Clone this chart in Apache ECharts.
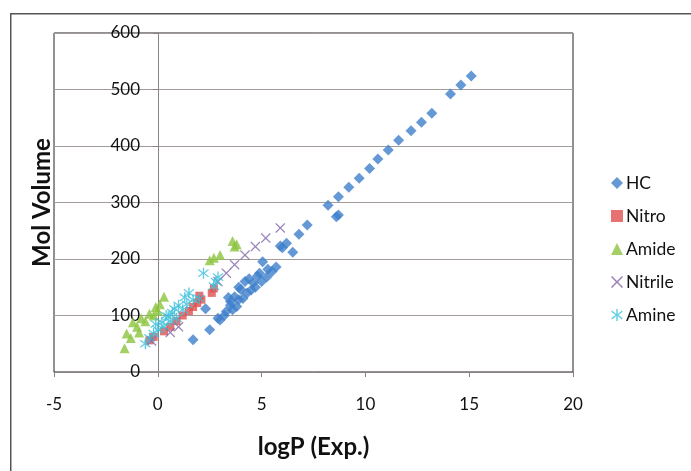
<!DOCTYPE html>
<html>
<head>
<meta charset="utf-8">
<script src="https://cdn.jsdelivr.net/npm/echarts@6/dist/echarts.min.js"></script>
<style>
  html, body { margin: 0; padding: 0; background: #fff; }
  #chart { width: 691px; height: 471px; }
</style>
</head>
<body>
<div id="chart"></div>
<script>
// data: [logP, Mol Volume]
var hcData = [
  [15.1,524],[14.6,508],[14.1,492],[13.2,458],[12.7,442],[12.2,427],[11.6,410],[11.1,393],
  [10.6,377],[10.2,360],[9.7,343],[9.2,327],[8.7,310],[8.2,295],[8.7,278],[8.6,275],
  [7.2,260],[6.8,244],[6.5,212],[6.2,228],[6.0,220],[5.9,223],
  [5.7,186],[5.5,178],[5.25,168],[5.05,195],[4.9,175],[4.6,158],[4.4,165],[4.2,160],
  [4.0,146],[3.9,150],[3.7,133],[3.5,125],[3.8,116],[3.5,118],[3.3,107],[3.6,110],
  [3.9,128],[4.3,140],[4.7,150],[2.9,95],[3.0,92],[2.5,75],[2.3,112],[1.7,57],
  [4.1,130],[4.5,145],[5.0,160],[3.2,100],[3.4,132],[4.8,170],[5.3,182]
];
var nitroData = [
  [2.7,148],[2.6,140],[2.1,128],[1.9,122],[1.5,108],[1.2,100],[0.9,90],[0.6,80],
  [0.3,72],[-0.4,56],[-0.2,62],[1.7,115],[2.0,135]
];
var amideData = [
  [3.6,232],[3.8,226],[3.7,222],[3.0,207],[2.5,198],[2.7,202],[0.3,133],[0.1,120],
  [-0.1,115],[-0.4,103],[-0.8,95],[-1.2,88],[-1.0,80],[-1.5,68],[-1.3,60],[-1.6,42],
  [-0.6,90],[-0.2,100],[0.0,108],[-0.9,70]
];
var nitrileData = [
  [5.9,255],[5.2,237],[4.7,222],[4.2,207],[3.7,190],[3.3,175],[2.9,160],[0.6,70],
  [1.0,80],[-0.3,55]
];
var amineData = [
  [2.2,175],[2.9,168],[2.8,160],[2.7,152],[1.5,140],[1.3,132],[1.7,128],[1.0,118],
  [1.2,110],[0.7,105],[0.5,98],[0.9,95],[0.2,88],[0.3,80],[0.0,75],[-0.2,68],
  [-0.4,60],[-0.6,50],[0.6,90],[1.4,120],[2.0,130],[0.8,112],[-0.1,85],[0.4,100]
];

var xName = 'logP (Exp.)';
var yName = 'Mol Volume';

var crossPath = 'path://M0,0.9 L0.9,0 L5,4.1 L9.1,0 L10,0.9 L5.9,5 L10,9.1 L9.1,10 L5,5.9 L0.9,10 L0,9.1 L4.1,5 Z';
var starPath = 'path://M4.4,0 L5.6,0 L5.6,4.1 L9.1,1.3 L9.8,2.2 L6.2,5 L9.8,7.8 L9.1,8.7 L5.6,5.9 L5.6,10 L4.4,10 L4.4,5.9 L0.9,8.7 L0.2,7.8 L3.8,5 L0.2,2.2 L0.9,1.3 L4.4,4.1 Z';

var fontFam = 'Lato, "Liberation Sans", sans-serif';

var chart = echarts.init(document.getElementById('chart'));
chart.setOption({
  animation: false,
  textStyle: { fontFamily: fontFam },
  graphic: [{
    type: 'rect',
    left: 10, top: 13,
    shape: { width: 700, height: 500 },
    style: { fill: 'transparent', stroke: '#555', lineWidth: 1.5 },
    z: -1,
    silent: true
  }],
  grid: {
    left: 54, top: 33, right: 118, bottom: 99,
    outerBoundsMode: 'none',
    containLabel: false,
    show: true, borderColor: '#222', borderWidth: 1
  },
  legend: {
    orient: 'vertical',
    left: 606, top: 169,
    itemWidth: 12, itemHeight: 12, itemGap: 15,
    textStyle: { fontSize: 17.5, color: '#111', fontFamily: fontFam, padding: [0, 0, 0, -2] },
    data: ['HC', 'Nitro', 'Amide', 'Nitrile', 'Amine']
  },
  xAxis: {
    type: 'value', min: -5, max: 20, interval: 5,
    name: xName, nameLocation: 'middle', nameGap: 63,
    nameTextStyle: { fontSize: 24, fontWeight: 'bold', color: '#111' },
    axisLine: { onZero: false, lineStyle: { color: '#8a8380' } },
    axisTick: { show: true, length: 5, lineStyle: { color: '#8a8380' } },
    axisLabel: { fontSize: 17, color: '#111', margin: 24 },
    splitLine: { show: false }
  },
  yAxis: {
    type: 'value', min: 0, max: 600, interval: 100,
    offset: -104,
    name: yName, nameLocation: 'middle', nameGap: 104,
    nameTextStyle: { fontSize: 24, fontWeight: 'bold', color: '#111' },
    axisLine: { show: true, onZero: false, lineStyle: { color: '#8a8380' } },
    axisTick: { show: true, length: 5, lineStyle: { color: '#8a8380' } },
    axisLabel: { fontSize: 17, color: '#111', margin: 18 },
    splitLine: { show: true, lineStyle: { color: '#a29b98', width: 1.2 } }
  },
  series: [
    { name: 'HC', type: 'scatter', data: hcData, symbol: 'diamond', symbolSize: 11,
      itemStyle: { color: '#3f7fcb' } },
    { name: 'Nitro', type: 'scatter', data: nitroData, symbol: 'rect', symbolSize: 8,
      itemStyle: { color: '#e0504d' } },
    { name: 'Amide', type: 'scatter', data: amideData, symbol: 'triangle', symbolSize: 10,
      itemStyle: { color: '#8cc43f' } },
    { name: 'Nitrile', type: 'scatter', data: nitrileData, symbol: crossPath, symbolSize: 10,
      itemStyle: { color: '#8064a8' } },
    { name: 'Amine', type: 'scatter', data: amineData, symbol: starPath, symbolSize: 11,
      itemStyle: { color: '#3cc0dc' } }
  ]
});
</script>
</body>
</html>
